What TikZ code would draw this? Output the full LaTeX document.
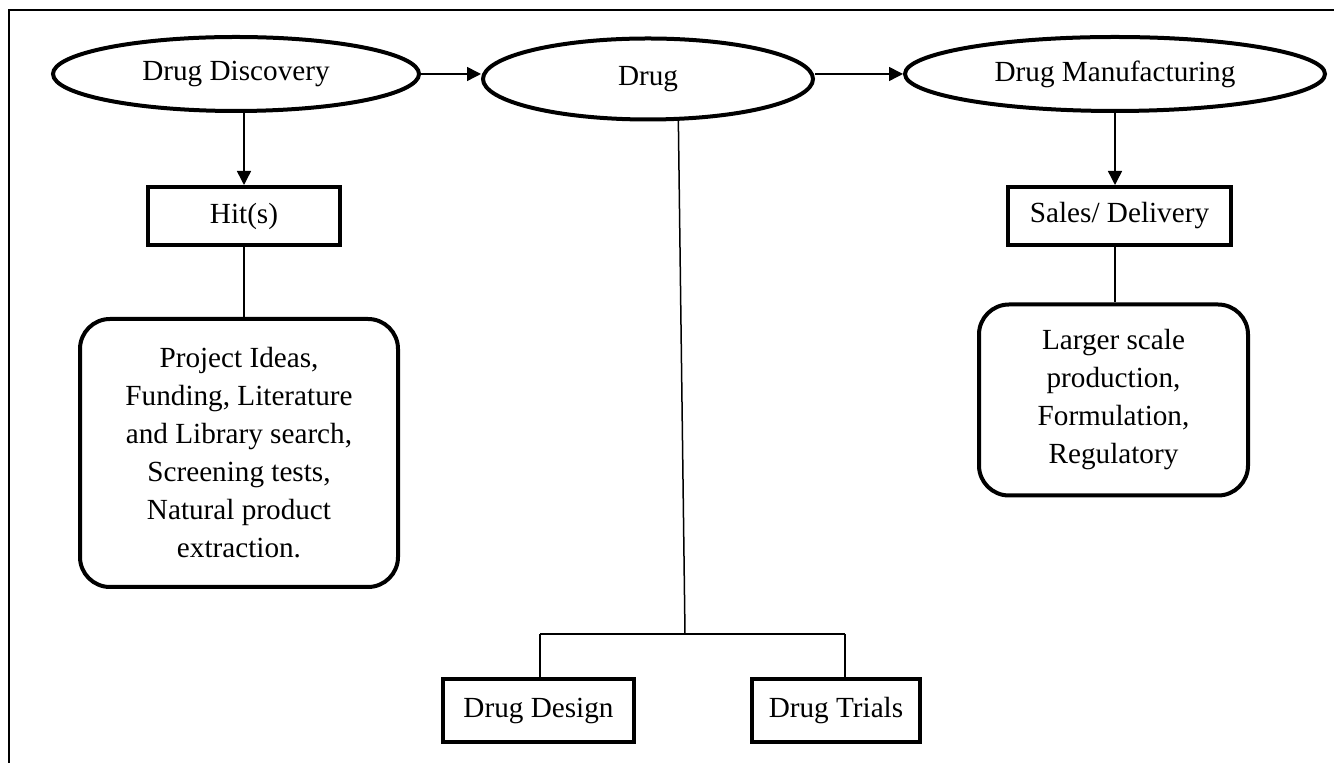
\documentclass[tikz,border=0pt]{standalone}
\usepackage{fontspec}
\setmainfont{Liberation Serif}
\usetikzlibrary{shapes.geometric,arrows.meta}
\begin{document}
\begin{tikzpicture}[x=0.5pt,y=-0.5pt,
  every node/.style={font=\fontsize{14.6}{19}\selectfont, inner sep=0pt, align=center},
  oval/.style={ellipse, draw, line width=2pt},
  sqbox/.style={rectangle, draw, line width=2pt},
  rbox/.style={rectangle, draw, line width=2pt, rounded corners=15pt},
  conn/.style={line width=0.75pt},
  arr/.style={conn, -{Triangle[length=7pt,width=7pt]}}
]
\useasboundingbox (0,0) rectangle (1334,763);
\draw[line width=0.8pt] (9,763) -- (9,10) -- (1334,10);

\node[oval, minimum width=183pt, minimum height=37pt] (dd) at (236,74) {Drug Discovery};
\node[oval, minimum width=165pt, minimum height=40.5pt] (drug) at (648,79) {Drug};
\node[oval, minimum width=210pt, minimum height=37pt] (dm) at (1115,74) {Drug Manufacturing};

\node[sqbox, minimum width=96pt, minimum height=29pt] (hit) at (244,216) {Hit(s)};
\node[sqbox, minimum width=111.5pt, minimum height=29pt] (sales) at (1119.5,216) {Sales/ Delivery};

\node[rbox, minimum width=159pt, minimum height=134pt] (rb1) at (239,453)
  {Project Ideas,\\Funding, Literature\\and Library search,\\Screening tests,\\Natural product\\extraction.};
\node[rbox, minimum width=134.5pt, minimum height=95.5pt] (rb2) at (1113.5,400)
  {Larger scale\\production,\\Formulation,\\Regulatory};

\node[sqbox, minimum width=95.5pt, minimum height=31.5pt] (design) at (538.5,710.5) {Drug Design};
\node[sqbox, minimum width=84pt, minimum height=31.5pt] (trials) at (836,710.5) {Drug Trials};

\draw[arr] (dd.east) -- (dd.east -| drug.west);
\draw[arr] (dm.west -| drug.east) -- (dm.west);
\draw[arr] (hit.north |- dd.south) -- (hit.north);
\draw[arr] (dm.south) -- (dm.south |- sales.north);
\draw[conn] (hit.south) -- (hit.south |- rb1.north);
\draw[conn] (dm.south |- sales.south) -- (dm.south |- rb2.north);

\coordinate (j) at (685,634);
\coordinate (jl) at (540,634);
\coordinate (jr) at (845,634);
\draw[conn] (drug.-54.6) -- (j);
\draw[conn] (jl) -- (jr);
\draw[conn] (jl) -- (jl |- design.north);
\draw[conn] (jr) -- (jr |- trials.north);
\end{tikzpicture}
\end{document}
